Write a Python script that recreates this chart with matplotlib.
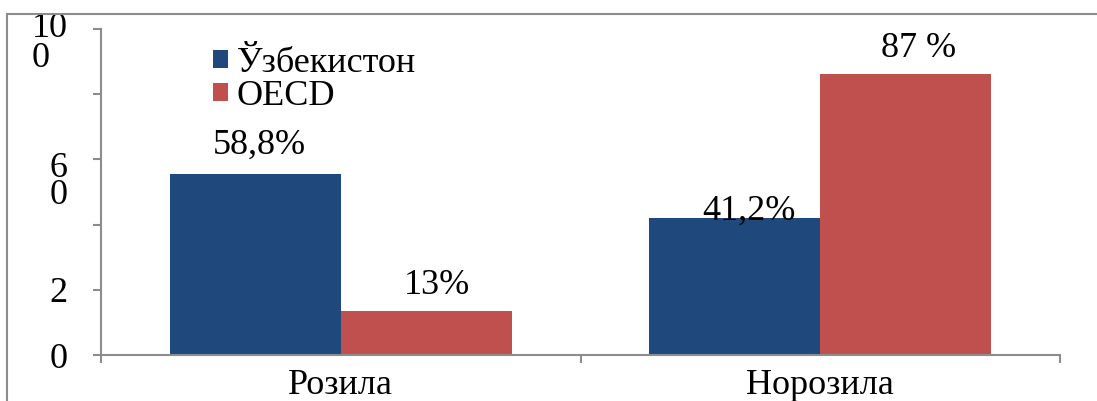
import numpy as np
import matplotlib.pyplot as plt
import matplotlib.transforms as mtransforms
from matplotlib.patches import Rectangle

plt.rcParams['font.family'] = ['Liberation Serif', 'DejaVu Serif']

categories = ['Розила', 'Норозила']
series_names = ['Ўзбекистон', 'OECD']
uzb_values = [55.5, 42.0]
oecd_values = [13.5, 86.2]
uzb_labels = ['58,8%', '41,2%']
oecd_labels = ['13%', '87 %']
ytick_values = [0, 20, 40, 60, 80, 100]
ytick_labels = ['0', '2', '', '6\n0', '', '10\n0']

blue = '#1F497D'
red = '#C0504D'
grey = '#8C8C8C'
fs = 26

fig = plt.figure(figsize=(10.97, 4.01), dpi=100)
W, H = 1097, 401
ax = fig.add_axes([101 / W, 1 - 355 / H, (1060 - 101) / W, (355 - 29) / H])

x = np.arange(len(categories))
bw = 0.357
b1 = ax.bar(x - bw / 2, uzb_values, bw, color=blue, label=series_names[0])
b2 = ax.bar(x + bw / 2, oecd_values, bw, color=red, label=series_names[1])

ax.set_xlim(-0.5, 1.5)
ax.set_ylim(0, 100)

# value labels (offsets in points)
uzb_off = [(3, 15), (10, -1)]
oecd_off = [(8, 12), (9, 12)]
for rect, lab, (dx, dy) in zip(b1, uzb_labels, uzb_off):
    ax.annotate(lab, (rect.get_x() + rect.get_width() / 2, rect.get_height()),
                xytext=(dx, dy), textcoords='offset points',
                ha='center', va='baseline', fontsize=fs)
for rect, lab, (dx, dy) in zip(b2, oecd_labels, oecd_off):
    ax.annotate(lab, (rect.get_x() + rect.get_width() / 2, rect.get_height()),
                xytext=(dx, dy), textcoords='offset points',
                ha='center', va='baseline', fontsize=fs)

for side in ['top', 'right']:
    ax.spines[side].set_visible(False)
for side in ['left', 'bottom']:
    ax.spines[side].set_color(grey)
    ax.spines[side].set_linewidth(1.5)

ax.set_yticks(ytick_values)
ax.set_yticklabels(ytick_labels, fontsize=fs)
ax.tick_params(axis='y', direction='out', length=6, width=1.5, color=grey, pad=18)
lift = {'10\n0': 12, '6\n0': 5}
for lab in ax.get_yticklabels():
    t = lab.get_text()
    if t in lift:
        lab.set_va('top')
        lab.set_multialignment('left')
        lab.set_linespacing(0.85 if t == '10\n0' else 0.75)
        lab.set_transform(lab.get_transform() +
                          mtransforms.ScaledTranslation(0, lift[t] / 72, fig.dpi_scale_trans))

ax.set_xticks(x)
ax.set_xticklabels(categories, fontsize=fs)
ax.tick_params(axis='x', which='major', length=0, pad=10)
ax.set_xticks([-0.5, 0.5, 1.5], minor=True)
ax.tick_params(axis='x', which='minor', direction='out', length=6, width=1.5, color=grey)

leg = ax.legend(loc='upper left', bbox_to_anchor=(0.117, 0.945), frameon=False,
                fontsize=fs, handlelength=0.4, handleheight=0.4,
                handletextpad=0.25, labelspacing=0.0, borderpad=0, borderaxespad=0)

# outer chart frame
fig.patches.append(Rectangle((7 / W, -0.1), 1.2, 1 - 14 / H + 0.1,
                             transform=fig.transFigure, fill=False,
                             edgecolor=grey, linewidth=1.5, clip_on=False))

fig.savefig('out.png', dpi=100)
